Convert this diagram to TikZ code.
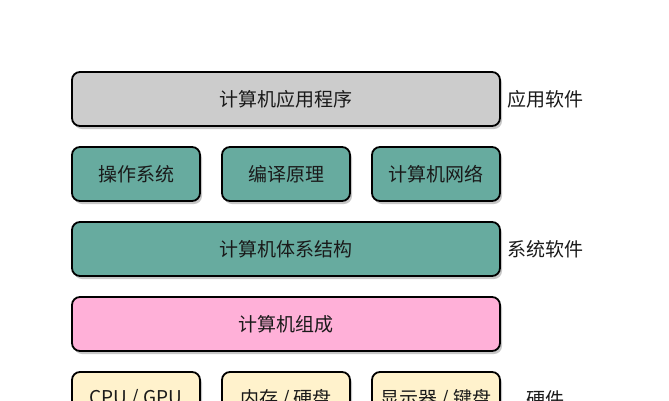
\documentclass[tikz,border=0pt]{standalone}
\usepackage{fontspec}
\newfontfamily\cjk{Noto Sans CJK SC}
\usetikzlibrary{shadows}
\definecolor{appgray}{HTML}{CCCCCC}
\definecolor{systeal}{HTML}{67AB9F}
\definecolor{orgpink}{HTML}{FFB0D8}
\definecolor{hwyellow}{HTML}{FFF2CC}
\definecolor{inkc}{HTML}{1A1A1A}
\begin{document}
\begin{tikzpicture}[x=1pt,y=-1pt,
  layer/.style={draw=black, line width=1.8pt, rounded corners=8pt, inner sep=0pt,
    minimum height=54pt, font=\cjk\fontsize{19}{23}\selectfont, text=inkc,
    drop shadow={shadow xshift=2pt, shadow yshift=-3pt, fill=black, opacity=0.22}},
  wide/.style={layer, minimum width=428pt},
  narrow/.style={layer, minimum width=128pt},
  tag/.style={font=\cjk\fontsize{19}{23}\selectfont, text=inkc, inner sep=0pt}]
\clip (0,0) rectangle (669,400);
\useasboundingbox (0,0) rectangle (669,400);
\fill[white] (0,0) rectangle (669,400);
% application layer
\node[wide, fill=appgray] (app) at (286,99) {计算机应用程序};
% system software layer
\node[narrow, fill=systeal] (os) at (136,174) {操作系统};
\node[narrow, fill=systeal] (comp) at (286,174) {编译原理};
\node[narrow, fill=systeal] (net) at (436,174) {计算机网络};
\node[wide, fill=systeal] (arch) at (286,249) {计算机体系结构};
% organisation layer
\node[wide, fill=orgpink] (org) at (286,324) {计算机组成};
% hardware layer
\node[narrow, fill=hwyellow] (cpu) at (136,399) {CPU / GPU};
\node[narrow, fill=hwyellow] (mem) at (286,399) {内存 / 硬盘};
\node[narrow, fill=hwyellow] (disp) at (436,399) {显示器 / 键盘};
% side labels
\node[tag] (lapp) at (545,99) {应用软件};
\node[tag] (lsys) at (545,249) {系统软件};
\node[tag] (lhw) at (545,399) {硬件};
\end{tikzpicture}
\end{document}
